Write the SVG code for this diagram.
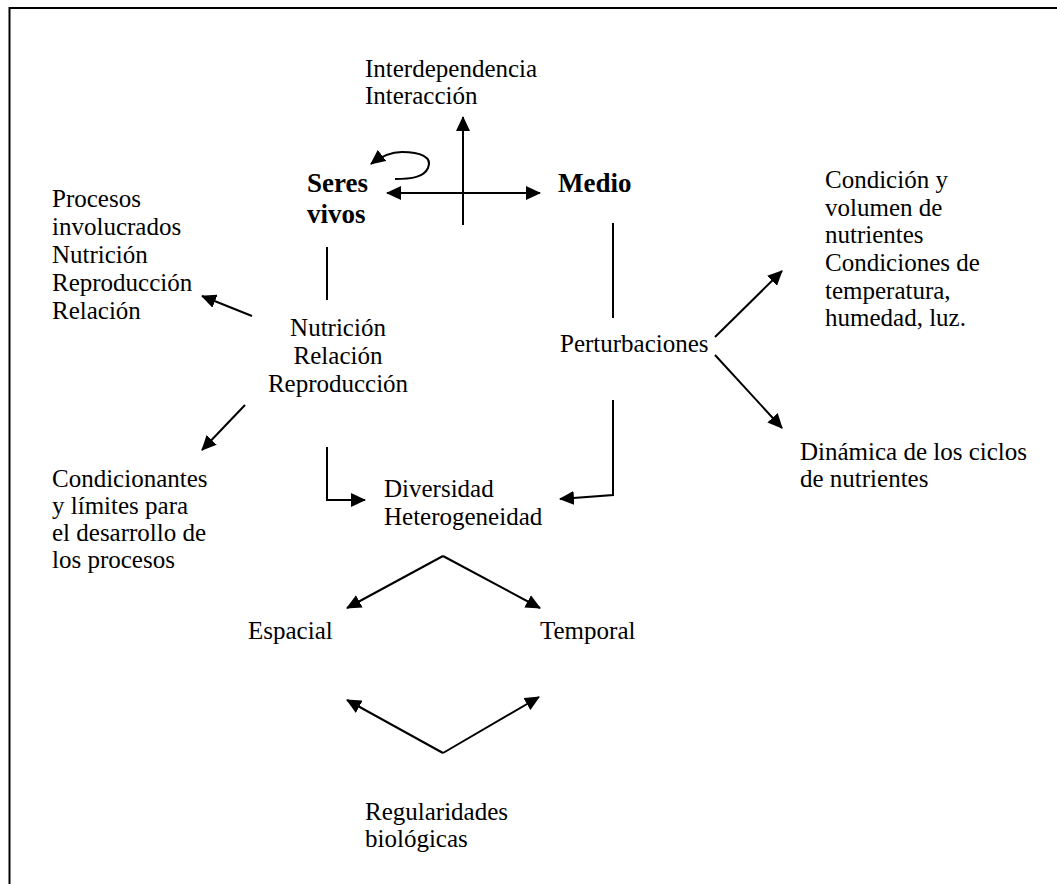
<svg xmlns="http://www.w3.org/2000/svg" width="1057" height="884" viewBox="0 0 1057 884">
<style>
text{font-family:"Liberation Serif","Times New Roman",serif;font-size:25px;fill:#000}
.b{font-weight:bold;font-size:27px}
.c{text-anchor:middle}
.ln{stroke:#000;stroke-width:2;fill:none}
.ar{marker-end:url(#ah)}
</style>
<defs>
<marker id="ah" viewBox="0 0 15 14" refX="14" refY="7" markerWidth="15" markerHeight="14" markerUnits="userSpaceOnUse" orient="auto-start-reverse">
<path d="M0,0 L15,7 L0,14 z" fill="#000"/>
</marker>
</defs>
<rect width="1057" height="884" fill="#fff"/>
<g id="frame"><path class="ln" d="M9.5,884 L9.5,8 L1057,8" stroke-width="3"/></g>
<g id="n-interdependencia"><text x="365" y="77">Interdependencia</text><text x="365" y="104">Interacción</text></g>
<g id="n-seres"><text class="b" x="307" y="192">Seres</text><text class="b" x="307" y="223">vivos</text></g>
<g id="n-medio"><text class="b" x="558" y="192">Medio</text></g>
<g id="n-procesos"><text x="52" y="207">Procesos</text><text x="52" y="235">involucrados</text><text x="52" y="263">Nutrición</text><text x="52" y="291">Reproducción</text><text x="52" y="319">Relación</text></g>
<g id="n-nutricion"><text class="c" x="338" y="336">Nutrición</text><text class="c" x="338" y="364">Relación</text><text class="c" x="338" y="392">Reproducción</text></g>
<g id="n-perturbaciones"><text x="560" y="352">Perturbaciones</text></g>
<g id="n-condicion"><text x="825" y="188">Condición y</text><text x="825" y="216">volumen de</text><text x="825" y="243">nutrientes</text><text x="825" y="271">Condiciones de</text><text x="825" y="299">temperatura,</text><text x="825" y="326">humedad, luz.</text></g>
<g id="n-dinamica"><text x="800" y="460">Dinámica de los ciclos</text><text x="800" y="487">de nutrientes</text></g>
<g id="n-diversidad"><text x="384" y="497">Diversidad</text><text x="384" y="525">Heterogeneidad</text></g>
<g id="n-condicionantes"><text x="52" y="487">Condicionantes</text><text x="52" y="514">y límites para</text><text x="52" y="541">el desarrollo de</text><text x="52" y="568">los procesos</text></g>
<g id="n-espacial"><text x="248" y="639">Espacial</text></g>
<g id="n-temporal"><text x="540" y="639">Temporal</text></g>
<g id="n-regularidades"><text x="365" y="820">Regularidades</text><text x="365" y="847">biológicas</text></g>
<g id="connectors">
<path class="ln ar" d="M463,225 L463,117"/>
<path class="ln ar" d="M387,193 L540,193" marker-start="url(#ah)"/>
<path class="ln ar" d="M395,179 C412,179 424,177 428,168 C433,157 420,152 402,152 C390,152 380,157 371,164"/>
<path class="ln" d="M327,247 L327,300"/>
<path class="ln" d="M613,223 L613,318"/>
<path class="ln ar" d="M252,316 L202,296"/>
<path class="ln ar" d="M245,405 L202,450"/>
<path class="ln ar" d="M327,447 L327,500 L365,500"/>
<path class="ln ar" d="M613,400 L613,495 L560,499"/>
<path class="ln ar" d="M715,337 L782,271"/>
<path class="ln ar" d="M715,355 L782,428"/>
<path class="ln ar" d="M443,556 L347,608"/>
<path class="ln ar" d="M443,556 L540,608"/>
<path class="ln ar" d="M443,753 L347,700"/>
<path class="ln ar" d="M443,753 L539,697"/>
</g>
</svg>
